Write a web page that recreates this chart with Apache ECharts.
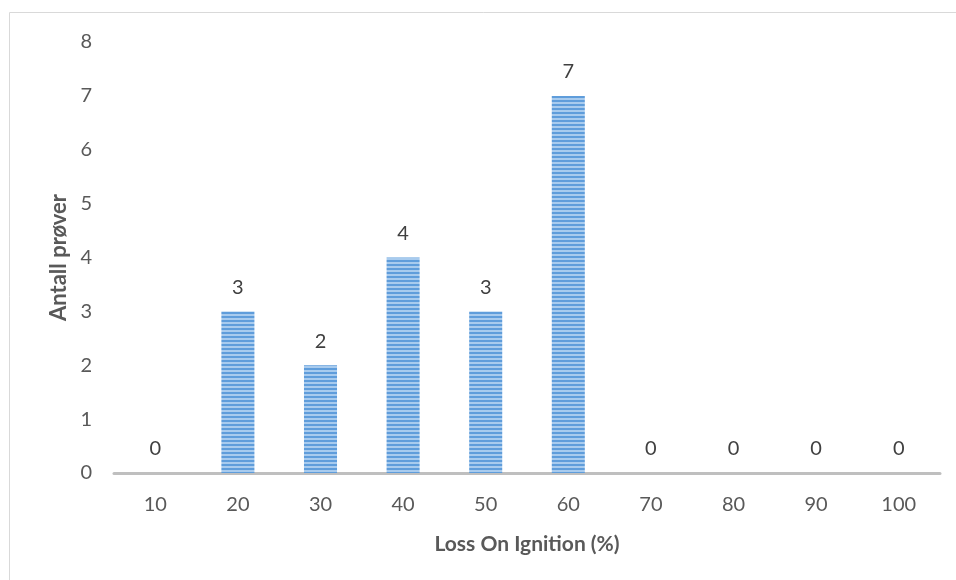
<!DOCTYPE html>
<html><head><meta charset="utf-8">
<script src="https://cdn.jsdelivr.net/npm/echarts@6/dist/echarts.min.js"></script>
<style>html,body{margin:0;padding:0;background:#fff}#c{width:956px;height:580px}</style>
</head><body><div id="c"></div>
<script>
const categories = ['10','20','30','40','50','60','70','80','90','100'];
const counts = [0,3,2,4,3,7,0,0,0,0];
const yTicks = [0,1,2,3,4,5,6,7,8];

const pat = document.createElement('canvas');
pat.width = 4; pat.height = 4;
const pc = pat.getContext('2d');
pc.fillStyle = '#5f9ddb'; pc.fillRect(0,0,4,2);
pc.fillStyle = '#a8cbee'; pc.fillRect(0,2,4,2);

const chart = echarts.init(document.getElementById('c'), null, {renderer:'canvas'});
const font = 'Lato, "Open Sans", sans-serif';
chart.setOption({
  animation:false,
  textStyle:{fontFamily:font},
  graphic:[{type:'rect',shape:{x:9.5,y:12.5,width:960,height:600},style:{fill:'none',stroke:'#d9d9d9',lineWidth:1},silent:true}],
  grid:{left:114,right:16,top:42,bottom:107},
  xAxis:{type:'category',data:categories,
    axisLine:{lineStyle:{color:'#bfbfbf',width:3}},axisTick:{show:false},
    axisLabel:{color:'#595959',fontSize:20,margin:22,fontFamily:font},
    name:'Loss On Ignition (%)',nameLocation:'middle',nameGap:61,
    nameTextStyle:{color:'#595959',fontSize:21,fontWeight:'bold',fontFamily:font}},
  yAxis:{type:'value',min:yTicks[0],max:yTicks[yTicks.length-1],interval:1,
    axisLine:{show:false},axisTick:{show:false},splitLine:{show:false},
    axisLabel:{color:'#595959',fontSize:20,margin:22,fontFamily:font},
    name:'Antall prøver',nameLocation:'middle',nameGap:43,nameRotate:90,
    nameTextStyle:{color:'#595959',fontSize:22,fontWeight:'bold',fontFamily:font}},
  series:[{type:'bar',data:counts,barCategoryGap:'60%',
    itemStyle:{color:{image:pat,repeat:'repeat'}},
    label:{show:true,position:'top',distance:14,color:'#404040',fontSize:20,fontFamily:font}}]
});
</script></body></html>
